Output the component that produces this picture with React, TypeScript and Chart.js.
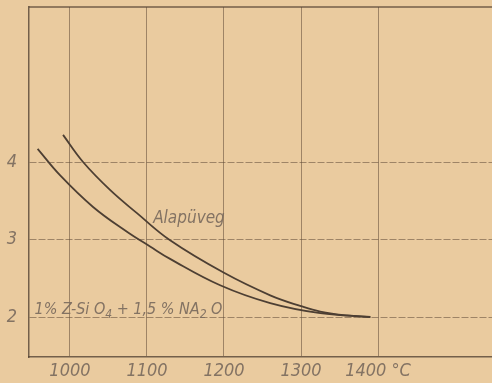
import React, { useEffect, useRef } from "react";
import { Chart, registerables } from "chart.js";

Chart.register(...registerables);

// Temperature (°C) and values
const baseGlassName = "Alapüveg";
const baseGlassX = [991, 1017, 1052, 1087, 1130, 1200, 1260, 1300, 1325, 1360, 1390];
const baseGlassY = [4.35, 4.0, 3.64, 3.34, 2.99, 2.57, 2.28, 2.14, 2.07, 2.02, 2.0];

const dopedX = [958, 987, 1030, 1074, 1104, 1130, 1195, 1260, 1325, 1390];
const dopedY = [4.17, 3.83, 3.42, 3.1, 2.91, 2.75, 2.41, 2.18, 2.05, 2.0];

const xTicks = [1000, 1100, 1200, 1300, 1400];
const yTicks = [2, 3, 4];
const xUnit = "°C";

const BG = "#eacb9f";
const GRID = "rgba(95,75,55,0.55)";
const AXIS = "rgba(85,68,52,0.8)";
const CURVE = "#4d3f33";
const TEXT = "rgba(125,110,96,0.95)";
const FONT = '"Liberation Sans Narrow", "DejaVu Sans Condensed", "Liberation Sans", sans-serif';

const labelsPlugin = {
  id: "labels",
  beforeDatasetsDraw(chart: any) {
    const { ctx, chartArea } = chart;
    ctx.save();
    ctx.strokeStyle = AXIS;
    ctx.lineWidth = 1.5;
    ctx.beginPath();
    ctx.moveTo(chartArea.left, chartArea.top);
    ctx.lineTo(chartArea.right, chartArea.top);
    ctx.stroke();
    ctx.restore();
  },
  afterDatasetsDraw(chart: any) {
    const { ctx, scales } = chart;
    const xs = scales.x;
    const ys = scales.y;
    ctx.save();
    ctx.fillStyle = TEXT;
    ctx.textBaseline = "alphabetic";
    ctx.textAlign = "left";
    ctx.font = `italic 17px ${FONT}`;
    ctx.fillText(baseGlassName, xs.getPixelForValue(1108), ys.getPixelForValue(3.21));
    const parts: [string, boolean][] = [
      ["1% Z-Si O", false],
      ["4", true],
      [" + 1,5 % NA", false],
      ["2", true],
      [" O", false],
    ];
    let px = xs.getPixelForValue(954);
    const py = ys.getPixelForValue(2.04);
    for (const [t, sub] of parts) {
      ctx.font = sub ? `italic 12px ${FONT}` : `italic 16px ${FONT}`;
      ctx.fillText(t, px, sub ? py + 4 : py);
      px += ctx.measureText(t).width;
    }
    ctx.restore();
  },
};

export default function App() {
  const ref = useRef<HTMLCanvasElement>(null);
  useEffect(() => {
    const prevMargin = document.body.style.margin;
    document.body.style.margin = "0";
    const chart = new Chart(ref.current!, {
      type: "line",
      data: {
        datasets: [
          {
            label: baseGlassName,
            data: baseGlassX.map((x, i) => ({ x, y: baseGlassY[i] })),
            borderColor: CURVE,
            borderWidth: 1.8,
            pointRadius: 0,
            tension: 0.4,
            fill: false,
          },
          {
            label: "1% Z-SiO4 + 1,5 % NA2O",
            data: dopedX.map((x, i) => ({ x, y: dopedY[i] })),
            borderColor: CURVE,
            borderWidth: 1.8,
            pointRadius: 0,
            tension: 0.4,
            fill: false,
          },
        ],
      },
      options: {
        responsive: false,
        animation: false,
        devicePixelRatio: 1,
        layout: { padding: { top: 7, right: 0, left: 0, bottom: 0 } },
        plugins: { legend: { display: false }, tooltip: { enabled: false } },
        scales: {
          x: {
            type: "linear",
            min: 946.8,
            max: 1548,
            afterBuildTicks: (s: any) => {
              s.ticks = xTicks.map((v) => ({ value: v }));
            },
            afterFit: (s: any) => {
              s.height = 26;
              s.paddingLeft = 0;
              s.paddingRight = 0;
            },
            grid: { color: GRID, lineWidth: 1, drawTicks: false },
            border: { display: true, color: AXIS, width: 1.5 },
            ticks: {
              color: TEXT,
              padding: 4,
              maxRotation: 0,
              autoSkip: false,
              font: { family: FONT, size: 18, style: "italic" },
              callback: (v: any) => (v === 1400 ? `${v} ${xUnit}` : String(v)),
            },
          },
          y: {
            type: "linear",
            min: 1.484,
            max: 6,
            afterBuildTicks: (s: any) => {
              s.ticks = yTicks.map((v) => ({ value: v }));
            },
            afterFit: (s: any) => {
              s.width = 29;
              s.paddingTop = 0;
              s.paddingBottom = 0;
            },
            grid: { color: GRID, lineWidth: 1, drawTicks: false },
            border: { display: true, color: AXIS, width: 1.5, dash: [7, 2] },
            ticks: {
              color: TEXT,
              padding: 12,
              autoSkip: false,
              font: { family: FONT, size: 18, style: "italic" },
              callback: (v: any) => String(v),
            },
          },
        },
      },
      plugins: [labelsPlugin],
    } as any);
    return () => {
      chart.destroy();
      document.body.style.margin = prevMargin;
    };
  }, []);
  return (
    <div style={{ position: "fixed", left: 0, top: 0, width: 492, height: 383, background: BG }}>
      <canvas ref={ref} width={492} height={383} style={{ display: "block" }} />
    </div>
  );
}
